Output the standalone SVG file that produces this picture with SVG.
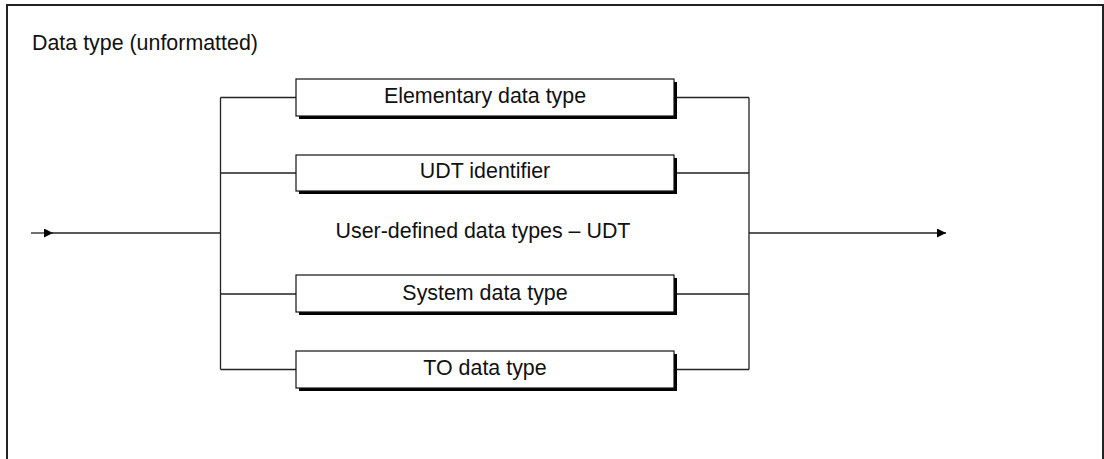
<svg xmlns="http://www.w3.org/2000/svg" width="1104" height="459" viewBox="0 0 1104 459">
<style>
.frame{fill:none;stroke:#222;stroke-width:2}
.ln{fill:none;stroke:#222;stroke-width:1.3}
.box{fill:#fff;stroke:#111;stroke-width:1.2}
.sh{fill:#000}
.t{font-family:"Liberation Sans",Arial,sans-serif;font-size:21.4px;fill:#111}
.c{text-anchor:middle}
</style>
<defs>
<marker id="ah" markerWidth="10" markerHeight="10" refX="9" refY="4.5" orient="auto" markerUnits="userSpaceOnUse">
<path d="M0,0 L9,4.5 L0,9 Z" fill="#000"/>
</marker>
</defs>
<rect width="1104" height="459" fill="#fff"/>
<path class="frame" d="M7,459 V5 H1103 V459"/>
<text class="t" x="32" y="50">Data type (unformatted)</text>
<g id="connectors">
<path class="ln" d="M31,233 H53" marker-end="url(#ah)"/>
<path class="ln" d="M50,233 H220.5"/>
<path class="ln" d="M220.5,97.5 V369.5"/>
<path class="ln" d="M220.5,97.5 H296 M220.5,173 H296 M220.5,294 H296 M220.5,369.5 H296"/>
<path class="ln" d="M674,97.5 H749 M674,173 H749 M674,294 H749 M674,369.5 H749"/>
<path class="ln" d="M749,97.5 V369.5"/>
<path class="ln" d="M749,233 H946" marker-end="url(#ah)"/>
</g>
<g id="node-elementary">
<rect class="sh" x="299" y="82" width="378" height="37"/>
<rect class="box" x="296" y="79" width="378" height="37"/>
<text class="t c" x="485" y="103">Elementary data type</text>
</g>
<g id="node-udt">
<rect class="sh" x="299" y="158" width="378" height="36"/>
<rect class="box" x="296" y="155" width="378" height="36"/>
<text class="t c" x="485" y="178">UDT identifier</text>
</g>
<g id="label-udt">
<text class="t c" x="483" y="238">User-defined data types – UDT</text>
</g>
<g id="node-system">
<rect class="sh" x="299" y="278" width="378" height="37"/>
<rect class="box" x="296" y="275" width="378" height="37"/>
<text class="t c" x="485" y="300">System data type</text>
</g>
<g id="node-to">
<rect class="sh" x="299" y="354" width="378" height="37"/>
<rect class="box" x="296" y="351" width="378" height="37"/>
<text class="t c" x="485" y="375">TO data type</text>
</g>
</svg>
